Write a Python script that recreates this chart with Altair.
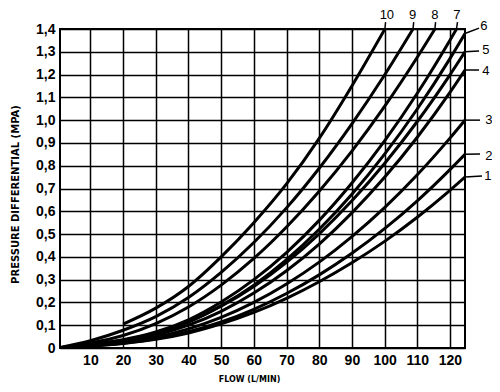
import altair as alt
import pandas as pd

# ---- data ----
curve_ids = ["1", "2", "3", "4", "5", "6", "7", "8", "9", "10"]

flow_1 = [0, 10, 20, 30, 40, 50, 60, 70, 80, 90, 100, 110, 120, 124.6]
pres_1 = [0, 0.008, 0.020, 0.038, 0.066, 0.106, 0.156, 0.218, 0.291, 0.374, 0.468, 0.574, 0.692, 0.75]

flow_2 = [0, 10, 20, 30, 40, 50, 60, 70, 80, 90, 100, 110, 120, 124.6]
pres_2 = [0, 0.009, 0.021, 0.040, 0.071, 0.114, 0.170, 0.239, 0.321, 0.416, 0.524, 0.646, 0.783, 0.85]

flow_3 = [0, 10, 20, 30, 40, 50, 60, 70, 80, 90, 100, 110, 120, 124.6]
pres_3 = [0, 0.010, 0.024, 0.047, 0.084, 0.134, 0.200, 0.281, 0.377, 0.489, 0.616, 0.760, 0.921, 1.00]

flow_4 = [0, 10, 20, 30, 40, 50, 60, 70, 80, 90, 100, 110, 120, 124.6]
pres_4 = [0, 0.012, 0.028, 0.056, 0.100, 0.161, 0.241, 0.339, 0.456, 0.593, 0.749, 0.925, 1.122, 1.22]

flow_5 = [0, 10, 20, 30, 40, 50, 60, 70, 80, 90, 100, 110, 120, 124.6]
pres_5 = [0, 0.014, 0.032, 0.064, 0.114, 0.183, 0.270, 0.376, 0.501, 0.646, 0.810, 0.994, 1.199, 1.30]

flow_6 = [0, 10, 20, 30, 40, 50, 60, 70, 80, 90, 100, 110, 120, 124.6]
pres_6 = [0, 0.015, 0.034, 0.065, 0.115, 0.186, 0.276, 0.388, 0.521, 0.675, 0.851, 1.049, 1.270, 1.38]

flow_7 = [0, 10, 20, 30, 40, 50, 60, 70, 80, 90, 100, 110, 120, 122]
pres_7 = [0, 0.016, 0.036, 0.070, 0.124, 0.202, 0.300, 0.419, 0.560, 0.724, 0.909, 1.118, 1.351, 1.40]

flow_8 = [0, 10, 20, 30, 40, 50, 60, 70, 80, 90, 100, 110, 115.4]
pres_8 = [0, 0.022, 0.055, 0.107, 0.180, 0.276, 0.393, 0.531, 0.688, 0.864, 1.060, 1.276, 1.40]

flow_9 = [0, 10, 20, 30, 40, 50, 60, 70, 80, 90, 100, 108.7]
pres_9 = [0, 0.032, 0.078, 0.138, 0.222, 0.332, 0.463, 0.615, 0.789, 0.984, 1.198, 1.40]

flow_10 = [20, 30, 40, 50, 60, 70, 80, 90, 100.1]
pres_10 = [0.105, 0.175, 0.270, 0.400, 0.550, 0.720, 0.920, 1.150, 1.40]

flows = [flow_1, flow_2, flow_3, flow_4, flow_5, flow_6, flow_7, flow_8, flow_9, flow_10]
pressures = [pres_1, pres_2, pres_3, pres_4, pres_5, pres_6, pres_7, pres_8, pres_9, pres_10]

# curve label annotations (data units) and leader lines
label_x = [131.6, 131.9, 131.9, 131.0, 131.0, 130.4, 122.1, 115.4, 108.6, 100.7]
label_y = [0.755, 0.842, 1.000, 1.215, 1.308, 1.413, 1.462, 1.462, 1.462, 1.462]
leader_x1 = [124.6, 124.6, 124.6, 124.6, 124.6, 124.6, 122.0, 115.4, 108.7, 100.1]
leader_y1 = [0.750, 0.850, 1.000, 1.220, 1.300, 1.380, 1.400, 1.400, 1.400, 1.400]
leader_x2 = [129.8, 129.2, 129.2, 128.9, 128.9, 128.9, 122.3, 115.6, 108.9, 100.3]
leader_y2 = [0.755, 0.851, 1.000, 1.220, 1.303, 1.404, 1.430, 1.430, 1.430, 1.430]

x_ticks = [10, 20, 30, 40, 50, 60, 70, 80, 90, 100, 110, 120]
y_ticks = [0, 0.1, 0.2, 0.3, 0.4, 0.5, 0.6, 0.7, 0.8, 0.9, 1.0, 1.1, 1.2, 1.3, 1.4]

rows = []
for cid, fl, pr in zip(curve_ids, flows, pressures):
    for i, (f, p) in enumerate(zip(fl, pr)):
        rows.append({"curve": cid, "order": i, "flow": f, "pressure": p})
curves_df = pd.DataFrame(rows)

ann_df = pd.DataFrame({
    "curve": curve_ids,
    "lx": label_x, "ly": label_y,
    "x1": leader_x1, "y1": leader_y1,
    "x2": leader_x2, "y2": leader_y2,
})

xscale = alt.Scale(domain=[0.7, 124.6], nice=False, zero=False)
yscale = alt.Scale(domain=[0, 1.4], nice=False, zero=True)

x_axis = alt.Axis(
    values=x_ticks, title="FLOW (L/MIN)", grid=True, gridColor="black",
    gridWidth=1.5, gridOpacity=1, domain=False, ticks=False,
    labelFont="Liberation Sans", labelFontSize=14, labelFontWeight="bold",
    labelColor="black", labelPadding=5, labelFlush=False,
    titleFont="DejaVu Sans", titleFontSize=8, titleFontWeight="bold",
    titleColor="black", titleX=189, titleY=31, titleBaseline="middle",
    titleAlign="center")
y_axis = alt.Axis(
    values=y_ticks, title="PRESSURE DIFFERENTIAL (MPA)", grid=True,
    gridColor="black", gridWidth=1.5, gridOpacity=1, domain=False, ticks=False,
    labelExpr="datum.value == 0 ? '0' : replace(format(datum.value, '.1f'), '.', ',')",
    labelFont="Liberation Sans", labelFontSize=14, labelFontWeight="bold",
    labelColor="black", labelPadding=5, labelFlush=False,
    titleFont="DejaVu Sans", titleFontSize=10, titleFontWeight="bold",
    titleColor="black", titleX=-45, titleY=165, titleAngle=-90,
    titleBaseline="middle", titleAlign="center")

lines = alt.Chart(curves_df).mark_line(
    interpolate="monotone", color="black", strokeWidth=3, clip=True
).encode(
    x=alt.X("flow:Q", scale=xscale, axis=x_axis, title="FLOW (L/MIN)"),
    y=alt.Y("pressure:Q", scale=yscale, axis=y_axis, title="PRESSURE DIFFERENTIAL (MPA)"),
    detail="curve:N",
    order="order:Q",
)

leaders = alt.Chart(ann_df).mark_rule(color="black", strokeWidth=1.5, clip=False).encode(
    x=alt.X("x1:Q", scale=xscale, axis=x_axis, title="FLOW (L/MIN)"),
    y=alt.Y("y1:Q", scale=yscale, axis=y_axis, title="PRESSURE DIFFERENTIAL (MPA)"),
    x2="x2:Q",
    y2="y2:Q",
)

labels = alt.Chart(ann_df).mark_text(
    font="Liberation Sans", fontSize=13, color="black", align="center",
    baseline="middle", clip=False
).encode(
    x=alt.X("lx:Q", scale=xscale, axis=x_axis, title="FLOW (L/MIN)"),
    y=alt.Y("ly:Q", scale=yscale, axis=y_axis, title="PRESSURE DIFFERENTIAL (MPA)"),
    text="curve:N",
)

chart = alt.layer(lines, leaders, labels).properties(
    width=405, height=319,
    autosize=alt.AutoSizeParams(type="none"),
    padding={"left": 52, "top": 21, "right": 27, "bottom": 36},
    background="white",
).configure_view(stroke="black", strokeWidth=2)

chart.save("out.html", embed_options={"renderer": "svg", "actions": False})
